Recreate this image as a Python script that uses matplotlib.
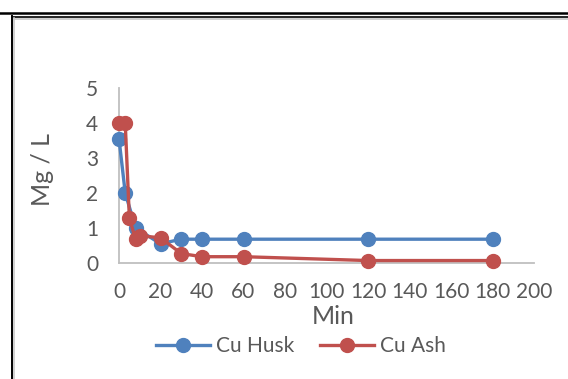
import matplotlib
matplotlib.use("Agg")
import matplotlib.pyplot as plt
from matplotlib.lines import Line2D

# sampling times (min) and concentrations (Mg / L)
husk_min = [0, 3, 8, 20, 30, 40, 60, 120, 180]
husk_conc = [3.55, 2.0, 1.0, 0.55, 0.68, 0.68, 0.68, 0.68, 0.68]
ash_min = [0, 3, 5, 8, 10, 20, 30, 40, 60, 120, 180]
ash_conc = [4.0, 4.0, 1.28, 0.68, 0.78, 0.72, 0.27, 0.18, 0.18, 0.07, 0.07]

x_ticks = list(range(0, 201, 20))
y_ticks = list(range(0, 6))

BLUE = "#4F81BD"
RED = "#C0504D"
TXT = "#595959"
AXC = "#BFBFBF"

plt.rcParams['font.family'] = ['Lato', 'DejaVu Sans']

W, H = 568, 379
fig = plt.figure(figsize=(W / 100, H / 100), dpi=100)
ax = fig.add_axes([119 / W, 1 - 263 / H, (534 - 119) / W, (263 - 88) / H])

ax.plot(husk_min, husk_conc, color=BLUE, lw=2.4, marker='o', ms=10,
        label='Cu Husk', zorder=3, clip_on=False)
ax.plot(ash_min, ash_conc, color=RED, lw=2.4, marker='o', ms=10,
        label='Cu Ash', zorder=4, clip_on=False)

ax.set_xlim(0, 200)
ax.set_ylim(0, 5)
ax.set_xticks(x_ticks)
ax.set_yticks(y_ticks)
ax.tick_params(length=0, labelsize=15, labelcolor=TXT)
ax.tick_params(axis='y', pad=15)
ax.tick_params(axis='x', pad=14)
for s in ('top', 'right'):
    ax.spines[s].set_visible(False)
for s in ('left', 'bottom'):
    ax.spines[s].set_color(AXC)
    ax.spines[s].set_linewidth(1.3)
ax.patch.set_visible(False)

ax.set_xlabel('Min', fontsize=18, color=TXT)
ax.xaxis.set_label_coords((333 - 119) / 415, (263 - 317) / 175)
ax.xaxis.label.set_va('center')
ax.set_ylabel('Mg / L', fontsize=18, color=TXT)
ax.yaxis.set_label_coords((42 - 119) / 415, (263 - 170) / 175)
ax.yaxis.label.set_va('center')

ax.legend(loc='center', bbox_to_anchor=(301 / W, 1 - 346 / H),
          bbox_transform=fig.transFigure, ncol=2, frameon=False,
          fontsize=15, labelcolor=TXT, handlelength=2.6,
          columnspacing=1.2, handletextpad=0.3)

# surrounding frame lines
def fline(xs, ys, **kw):
    fig.add_artist(Line2D([x / W for x in xs], [1 - y / H for y in ys],
                          transform=fig.transFigure, **kw))

fline([0, W], [13, 13], color='black', lw=1.8)
fline([12, W], [16.5, 16.5], color='black', lw=1.2)
fline([12, 12], [16, H], color='black', lw=1.4)
fline([14, W], [18.5, 18.5], color='#C8C8C8', lw=1.2)
fline([14, 14], [18, H], color='#C8C8C8', lw=1.2)

fig.savefig('out.png', dpi=100)
